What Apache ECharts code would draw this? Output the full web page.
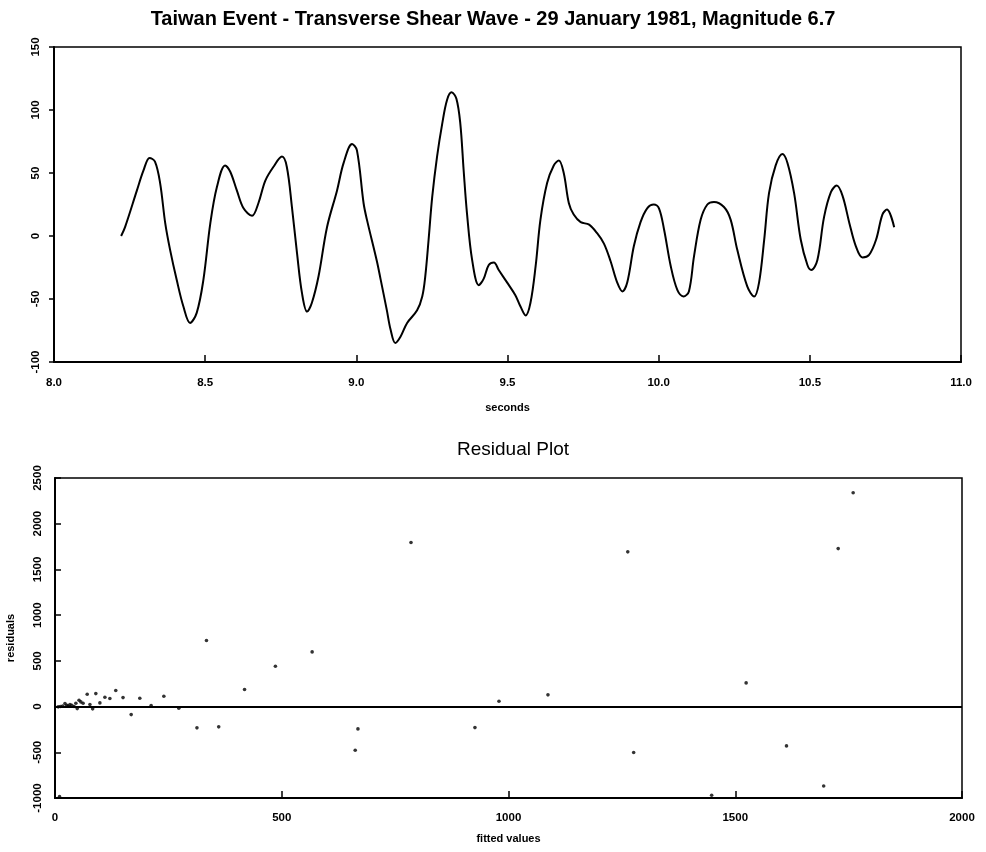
<!DOCTYPE html>
<html>
<head>
<meta charset="utf-8">
<script src="https://cdn.jsdelivr.net/npm/echarts@6/dist/echarts.min.js"></script>
<style>html,body{margin:0;padding:0;background:#fff}#c{width:986px;height:852px}</style>
</head>
<body>
<div id="c"></div>
<script>
// Top panel: seismic trace (seconds, amplitude)
var waveTimes = [8.222,8.235,8.274,8.296,8.316,8.334,8.351,8.368,8.384,8.406,8.428,8.450,8.472,8.494,8.517,8.539,8.566,8.583,8.605,8.627,8.655,8.676,8.699,8.726,8.754,8.770,8.787,8.804,8.820,8.837,8.853,8.875,8.903,8.936,8.958,8.986,9.002,9.024,9.035,9.068,9.080,9.101,9.113,9.129,9.146,9.168,9.201,9.218,9.228,9.239,9.251,9.267,9.284,9.300,9.315,9.331,9.344,9.355,9.366,9.383,9.405,9.421,9.438,9.455,9.471,9.499,9.526,9.543,9.560,9.576,9.593,9.609,9.631,9.653,9.670,9.686,9.703,9.719,9.742,9.770,9.797,9.819,9.841,9.863,9.880,9.896,9.918,9.940,9.962,9.984,10.001,10.018,10.040,10.062,10.082,10.100,10.117,10.139,10.161,10.183,10.216,10.238,10.260,10.293,10.316,10.332,10.349,10.365,10.387,10.409,10.426,10.448,10.470,10.492,10.505,10.525,10.547,10.570,10.589,10.608,10.631,10.652,10.674,10.696,10.719,10.740,10.755,10.779];
var waveAmps = [0,7,36,52,62,59,42,10,-11,-35,-56,-69,-61,-35,10,39,56,51,36,22,16,26,44,55,63,55,23,-14,-45,-60,-53,-32,7,36,58,73,68,26,13,-20,-34,-59,-74,-85,-80,-69,-59,-48,-32,-3,31,63,89,108,114,109,89,52,18,-19,-39,-34,-23,-21,-27,-37,-47,-56,-63,-53,-24,13,42,56,60,50,26,17,11,9,2,-6,-20,-37,-44,-37,-8,11,22,25,22,5,-24,-43,-48,-44,-16,13,25,27,23,13,-11,-40,-48,-37,-3,34,56,65,58,34,-3,-23,-27,-19,15,35,40,32,10,-8,-17,-15,-3,17,21,7];

// Bottom panel: residuals vs fitted values
var fittedVals = [10,7,12,17,22,26,29,33,37,42,46,49,53,57,62,71,77,83,90,99,110,121,134,150,168,187,212,240,273,313,334,361,418,486,567,662,668,785,926,979,1087,1263,1276,1448,1524,1613,1695,1727,1760];
var residVals  = [-985,-3,0,7,33,14,7,22,14,0,36,-22,69,51,36,135,22,-25,142,40,102,88,175,98,-88,91,11,113,-19,-233,722,-222,186,441,598,-478,-244,1794,-230,58,128,1692,-503,-970,259,-430,-868,1728,2338];

var topTicks = [8, 11, 0.5];
var topYTicks = [-100, 150, 50];
var botTicks = [0, 2000, 500];
var botYTicks = [-1000, 2500, 500];

var wave = waveTimes.map(function(t, i){ return [t, waveAmps[i]]; });
var resid = fittedVals.map(function(f, i){ return [f, residVals[i]]; });

var FONT = 'Liberation Sans';
var lbl = {color:'#000', fontFamily:FONT, fontWeight:'bold', fontSize:11.5};
var plain = function(v){ return String(v); };

var chart = echarts.init(document.getElementById('c'), null, {renderer:'canvas'});
chart.setOption({
  animation:false,
  backgroundColor:'#fff',
  title:[
    {text:'Taiwan Event - Transverse Shear Wave - 29 January 1981, Magnitude 6.7', left:'center', top:4,
     textStyle:{fontFamily:FONT, fontSize:20, fontWeight:'bold', color:'#000'}},
    {text:'Residual Plot', left:508, textAlign:'center', top:435,
     textStyle:{fontFamily:FONT, fontSize:19, fontWeight:'normal', color:'#000'}}
  ],
  grid:[
    {left:54, top:47, width:907, height:315, show:true, borderColor:'#000', borderWidth:1.5,
     backgroundColor:'transparent', containLabel:false, outerBoundsMode:'none'},
    {left:55, top:478, width:907, height:320, show:true, borderColor:'#000', borderWidth:1.5,
     backgroundColor:'transparent', containLabel:false, outerBoundsMode:'none'}
  ],
  xAxis:[
    {gridIndex:0, type:'value', min:topTicks[0], max:topTicks[1], interval:topTicks[2],
     name:'seconds', nameLocation:'middle', nameGap:40,
     nameTextStyle:{color:'#000', fontFamily:FONT, fontWeight:'bold', fontSize:11},
     axisLine:{onZero:false, lineStyle:{color:'#000', width:2}},
     axisTick:{inside:true, length:7, lineStyle:{color:'#000', width:1.5}},
     axisLabel:Object.assign({margin:15, formatter:function(v){return v.toFixed(1);}}, lbl),
     splitLine:{show:false}},
    {gridIndex:1, type:'value', min:botTicks[0], max:botTicks[1], interval:botTicks[2],
     name:'fitted values', nameLocation:'middle', nameGap:35,
     nameTextStyle:{color:'#000', fontFamily:FONT, fontWeight:'bold', fontSize:11},
     axisLine:{onZero:false, lineStyle:{color:'#000', width:2}},
     axisTick:{inside:true, length:7, lineStyle:{color:'#000', width:1.5}},
     axisLabel:Object.assign({margin:14, formatter:plain}, lbl),
     splitLine:{show:false}}
  ],
  yAxis:[
    {gridIndex:0, type:'value', min:topYTicks[0], max:topYTicks[1], interval:topYTicks[2],
     axisLine:{onZero:false, lineStyle:{color:'#000', width:2}},
     axisTick:{inside:false, length:5, lineStyle:{color:'#000', width:1.5}},
     axisLabel:Object.assign({margin:12, rotate:90, formatter:plain}, lbl),
     splitLine:{show:false}},
    {gridIndex:1, type:'value', min:botYTicks[0], max:botYTicks[1], interval:botYTicks[2],
     name:'residuals', nameLocation:'middle', nameGap:39,
     nameTextStyle:{color:'#000', fontFamily:FONT, fontWeight:'bold', fontSize:11},
     axisLine:{onZero:false, lineStyle:{color:'#000', width:2}},
     axisTick:{inside:true, length:6, lineStyle:{color:'#000', width:1.5}},
     axisLabel:Object.assign({margin:11, rotate:90, formatter:plain}, lbl),
     splitLine:{show:false}}
  ],
  series:[
    {type:'line', xAxisIndex:0, yAxisIndex:0, data:wave, showSymbol:false, smooth:0.35,
     lineStyle:{color:'#000', width:2}},
    {type:'scatter', xAxisIndex:1, yAxisIndex:1, data:resid, symbol:'circle', symbolSize:3.6,
     itemStyle:{color:'#000'},
     markLine:{silent:true, symbol:['none','none'], label:{show:false},
       lineStyle:{color:'#000', width:1.8, type:'solid'},
       data:[{yAxis:0}]}}
  ]
});
</script>
</body>
</html>
